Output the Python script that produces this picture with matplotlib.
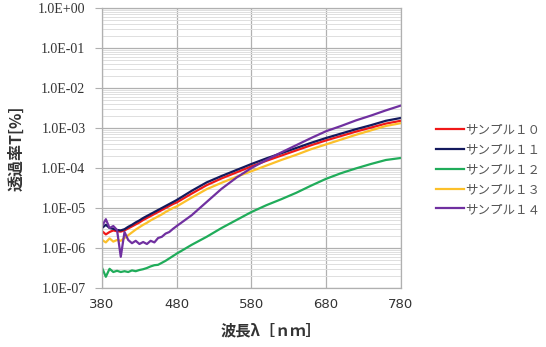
import numpy as np
import matplotlib
matplotlib.use('Agg')
import matplotlib.pyplot as plt

# wavelength [nm]
wl = [380, 385, 390, 395, 400, 405, 410, 415, 420, 425, 430, 435, 440, 445, 450,
      455, 460, 465, 470, 475, 480,
      500, 520, 540, 560, 580, 600, 620, 640, 660, 680, 700, 720, 740, 760, 780]

# log10 of transmittance
s10 = [-5.58, -5.66, -5.60, -5.56, -5.58, -5.59, -5.56, -5.51, -5.46, -5.41, -5.36, -5.30, -5.25, -5.20, -5.15,
       -5.10, -5.05, -5.00, -4.95, -4.90, -4.86,
       -4.64, -4.43, -4.26, -4.11, -3.96, -3.82, -3.69, -3.56, -3.43, -3.31, -3.20, -3.09, -2.99, -2.89, -2.82]
s11 = [-5.50, -5.42, -5.50, -5.52, -5.55, -5.56, -5.53, -5.47, -5.42, -5.36, -5.31, -5.25, -5.20, -5.15, -5.10,
       -5.05, -5.00, -4.95, -4.90, -4.85, -4.80,
       -4.57, -4.36, -4.20, -4.05, -3.90, -3.76, -3.63, -3.50, -3.37, -3.25, -3.14, -3.03, -2.93, -2.82, -2.75]
s12 = [-6.50, -6.72, -6.52, -6.60, -6.57, -6.60, -6.58, -6.60, -6.56, -6.58, -6.55, -6.53, -6.50, -6.46, -6.43,
       -6.42, -6.37, -6.32, -6.26, -6.20, -6.14,
       -5.92, -5.72, -5.50, -5.30, -5.10, -4.93, -4.78, -4.62, -4.44, -4.27, -4.13, -4.01, -3.90, -3.80, -3.75]
s13 = [-5.80, -5.86, -5.76, -5.84, -5.80, -5.82, -5.75, -5.68, -5.61, -5.54, -5.48, -5.42, -5.37, -5.31, -5.26,
       -5.21, -5.16, -5.10, -5.05, -5.00, -4.96,
       -4.74, -4.53, -4.37, -4.22, -4.08, -3.94, -3.80, -3.67, -3.53, -3.41, -3.29, -3.17, -3.06, -2.95, -2.88]
s14 = [-5.45, -5.28, -5.50, -5.45, -5.55, -6.22, -5.60, -5.80, -5.88, -5.82, -5.90, -5.85, -5.90, -5.82, -5.86,
       -5.75, -5.72, -5.64, -5.60, -5.52, -5.45,
       -5.18, -4.85, -4.52, -4.24, -4.00, -3.80, -3.61, -3.43, -3.25, -3.08, -2.95, -2.81, -2.69, -2.56, -2.44]

names = ['サンプル１０', 'サンプル１１', 'サンプル１２', 'サンプル１３', 'サンプル１４']
colors = ['#f01818', '#141a5e', '#20ac5a', '#fcc02a', '#7030a0']
series = [s10, s11, s12, s13, s14]

xticks = [380, 480, 580, 680, 780]
ytick_vals = [1e-7, 1e-6, 1e-5, 1e-4, 1e-3, 1e-2, 1e-1, 1e0]
ytick_labels = ['1.0E-07', '1.0E-06', '1.0E-05', '1.0E-04', '1.0E-03', '1.0E-02', '1.0E-01', '1.0E+00']

fig = plt.figure(figsize=(5.46, 3.47), dpi=100)
ax = fig.add_axes([0.187, 0.170, 0.547, 0.807])

lines = []
for s, c in zip(series, colors):
    p, = ax.plot(wl, 10 ** np.array(s), color=c, lw=1.6)
    lines.append(p)

ax.set_yscale('log')
ax.set_ylim(1e-7, 1e0)
ax.set_xlim(380, 780)
ax.set_xticks(xticks)
ax.set_xticklabels([str(x) for x in xticks], fontsize=9.5, color='#333333',
                   family='DejaVu Sans')
ax.set_yticks(ytick_vals)
ax.set_yticklabels(ytick_labels, fontsize=10, color='#333333', family='Liberation Serif')
ax.yaxis.set_minor_locator(matplotlib.ticker.LogLocator(base=10, subs=np.arange(2, 10)))
ax.yaxis.set_minor_formatter(matplotlib.ticker.NullFormatter())

ax.grid(True, which='major', axis='both', color='#b0b0b0', lw=0.9)
ax.grid(True, which='minor', axis='y', color='#dedede', lw=0.7)
ax.set_axisbelow(True)
ax.tick_params(axis='y', which='major', length=5, color='#b0b0b0', pad=7)
ax.tick_params(axis='y', which='minor', length=0)
ax.tick_params(axis='x', length=0, pad=7)
for sp in ax.spines.values():
    sp.set_color('#b0b0b0')
    sp.set_linewidth(0.9)

ax.set_ylabel('透過率T[%]', family=['Noto Sans CJK JP', 'DejaVu Sans'], fontsize=11.5,
              fontweight='bold', color='#333333', labelpad=10)
fig.text(271 / 546, 1 - 330 / 347, '波長λ［ｎｍ］', family=['Noto Sans CJK JP', 'DejaVu Sans'],
         fontsize=11, fontweight='bold', color='#333333', ha='center', va='center')

leg = fig.legend(lines, names, loc='upper left', bbox_to_anchor=(0.778, 0.677),
                 frameon=False, handlelength=2.2, handletextpad=0.1, labelspacing=0.55,
                 prop={'family': 'Noto Sans CJK JP', 'size': 9})
for t in leg.get_texts():
    t.set_color('#555555')

plt.savefig('out.png', dpi=100)
